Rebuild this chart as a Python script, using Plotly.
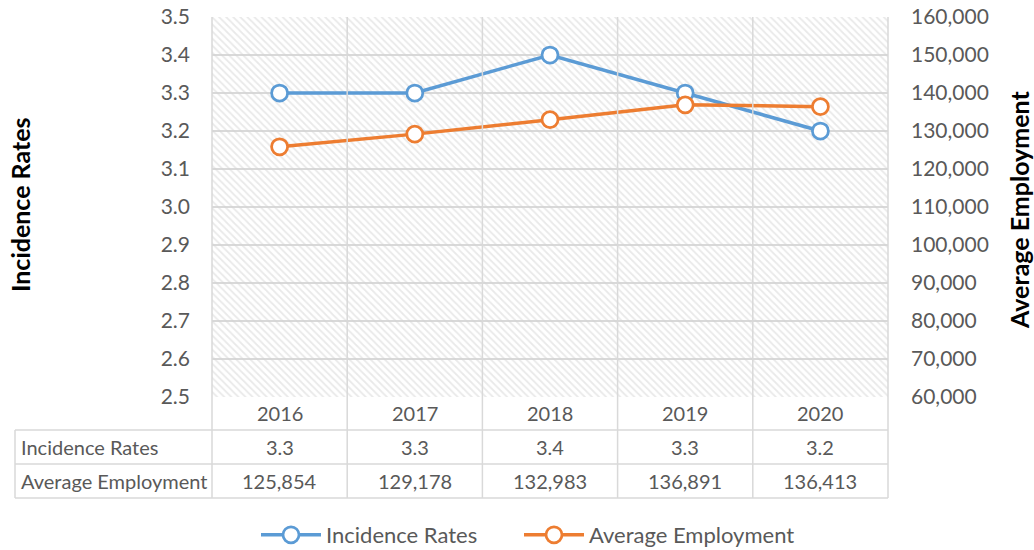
import plotly.graph_objects as go

years = ["2016", "2017", "2018", "2019", "2020"]
incidence_rates = [3.3, 3.3, 3.4, 3.3, 3.2]
avg_employment = [125854, 129178, 132983, 136891, 136413]
series_names = ["Incidence Rates", "Average Employment"]

BLUE = "#5B9BD5"
ORANGE = "#ED7D31"
GRID = "#D9D9D9"
TXT = "#595959"
FONT = "Lato, 'Open Sans', sans-serif"

W, H = 1034, 550
L, R, T, B = 212, 888, 17, 397
pw, ph = R - L, B - T

def px_x(p):
    return (p - L) / pw

def px_y(p):
    return (B - p) / ph

xs = list(range(len(years)))
y1_min, y1_max = 2.5, 3.5

fig = go.Figure()

# hatched plot-area background
fig.add_trace(go.Bar(
    x=xs, y=[y1_max - y1_min] * len(xs), base=y1_min, width=1,
    marker=dict(color="rgba(0,0,0,0)", line=dict(width=0),
                pattern=dict(shape="\\", size=5, solidity=0.35,
                             fgcolor="#D4D4D4", bgcolor="rgba(0,0,0,0)")),
    hoverinfo="skip", showlegend=False))

fig.add_trace(go.Scatter(
    x=xs, y=incidence_rates, name=series_names[0], mode="lines+markers",
    legend="legend",
    line=dict(color=BLUE, width=3.5),
    marker=dict(symbol="circle", size=16, color="white", line=dict(color=BLUE, width=2.75))))

fig.add_trace(go.Scatter(
    x=xs, y=avg_employment, name=series_names[1], mode="lines+markers", yaxis="y2",
    legend="legend2",
    line=dict(color=ORANGE, width=3.5),
    marker=dict(symbol="circle", size=16, color="white", line=dict(color=ORANGE, width=2.75))))

shapes = []
n = len(years)
for i in range(n + 1):
    shapes.append(dict(type="line", xref="paper", yref="paper",
                       x0=i / n, x1=i / n, y0=1, y1=px_y(498),
                       line=dict(color=GRID, width=1.5)))
shapes.append(dict(type="line", xref="paper", yref="paper",
                   x0=px_x(15), x1=px_x(15), y0=px_y(430), y1=px_y(498),
                   line=dict(color=GRID, width=1.5)))
for yy in [430, 464, 498]:
    shapes.append(dict(type="line", xref="paper", yref="paper",
                       x0=px_x(15), x1=1, y0=px_y(yy), y1=px_y(yy),
                       line=dict(color=GRID, width=1.5)))

TS = 20
annotations = []
def cell(x, xref, y, text, xanchor="center"):
    annotations.append(dict(x=x, xref=xref, y=px_y(y), yref="paper", text=text,
                            xanchor=xanchor, yanchor="middle", showarrow=False,
                            font=dict(size=TS, color=TXT, family=FONT)))

for i, yr in enumerate(years):
    cell(i, "x", 413, yr)
    cell(i, "x", 447, f"{incidence_rates[i]:.1f}")
    cell(i, "x", 481, f"{avg_employment[i]:,}")
for name, yy in zip(series_names, [447, 481]):
    cell(px_x(19), "paper", yy, name, xanchor="left")

annotations.append(dict(x=px_x(20), xref="paper", y=px_y(205), yref="paper",
                        xanchor="center", yanchor="middle",
                        text="<b>Incidence Rates</b>", textangle=-90, showarrow=False,
                        font=dict(size=25, color="black", family=FONT)))
annotations.append(dict(x=px_x(1019), xref="paper", y=px_y(210), yref="paper",
                        xanchor="center", yanchor="middle",
                        text="<b>Average Employment</b>", textangle=-90, showarrow=False,
                        font=dict(size=25, color="black", family=FONT)))

legend_common = dict(orientation="h", yanchor="middle", y=px_y(535), xanchor="left",
                     font=dict(size=22, color=TXT), itemwidth=60,
                     bgcolor="rgba(0,0,0,0)")

fig.update_layout(
    width=W, height=H,
    margin=dict(l=L, r=W - R, t=T, b=H - B, autoexpand=False),
    paper_bgcolor="white", plot_bgcolor="white",
    font=dict(family=FONT, color=TXT, size=20),
    xaxis=dict(range=[-0.5, n - 0.5], showticklabels=False, showgrid=False,
               zeroline=False, fixedrange=True),
    yaxis=dict(range=[y1_min, y1_max], dtick=0.1, tickformat=".1f",
               showgrid=True, gridcolor=GRID, gridwidth=1.5, zeroline=False,
               ticks="", ticklabelstandoff=21, tickfont=dict(size=21, color=TXT)),
    yaxis2=dict(range=[60000, 160000], dtick=10000, tickformat=",", overlaying="y",
                side="right", showgrid=False, zeroline=False, ticks="",
                ticklabelstandoff=22, tickfont=dict(size=21, color=TXT)),
    shapes=shapes, annotations=annotations,
    showlegend=True,
    legend=dict(x=px_x(256), **legend_common),
    legend2=dict(x=px_x(519), **legend_common),
    hovermode=False,
)

fig.write_html("out.html", config={"displayModeBar": False},
               post_script="document.body.style.margin='0px';")
